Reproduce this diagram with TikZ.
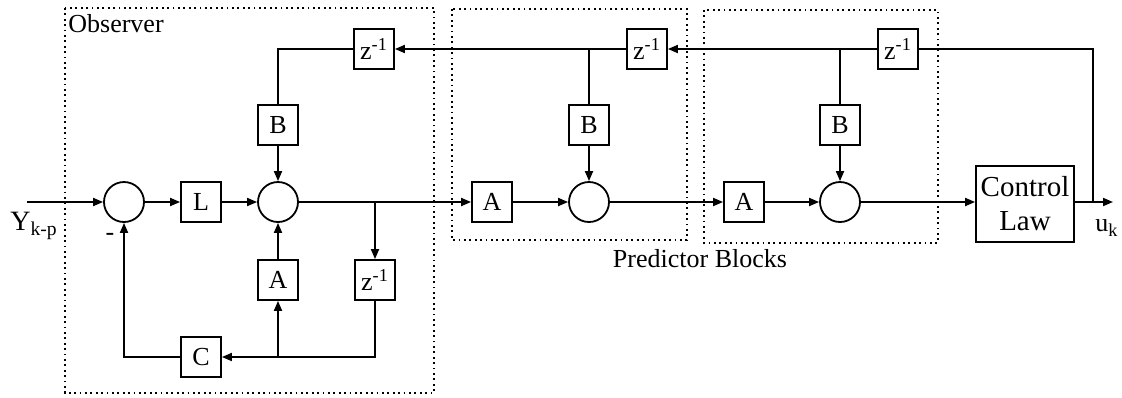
\documentclass[tikz,border=0pt]{standalone}
\usepackage{fontspec}
\setmainfont{Liberation Serif}
\usetikzlibrary{arrows.meta,positioning}

\begin{document}
\begin{tikzpicture}[x=0.5pt,y=-0.5pt,font=\fontsize{13}{15}\selectfont,
  blk/.style={draw, line width=0.9pt, minimum size=20pt, inner sep=0pt},
  sumc/.style={draw, line width=0.9pt, circle, minimum size=20pt, inner sep=0pt},
  grp/.style={draw, line width=0.9pt, dash pattern=on 0.9pt off 1.8pt},
  sig/.style={line width=0.9pt, -{Triangle[length=5pt,width=4pt]}},
  wire/.style={line width=0.9pt}]
\useasboundingbox (0,0) rectangle (1122,397);

% dotted groups
\draw[grp] (65,8) rectangle (434,393);
\draw[grp] (452,9) rectangle (687,240);
\draw[grp] (704,10) rectangle (938,243);
\node[anchor=north west, inner sep=1pt] (obs) at (66,12) {Observer};
\node (pred) at (700,259) {Predictor Blocks};

% observer
\node[blk] (zo) at (374,49) {z\textsuperscript{-1}};
\node[blk] (bo) at (278,125) {B};
\node[sumc] (s1) at (124,202) {};
\node[blk] (lo) at (201,202) {L};
\node[sumc] (so) at (278,202) {};
\node[blk] (ao) at (278,280) {A};
\node[blk] (zl) at (375,280) {z\textsuperscript{-1}};
\node[blk] (co) at (201,357) {C};

% predictor blocks
\node[blk] (zp1) at (647,49) {z\textsuperscript{-1}};
\node[blk] (bp1) at (589,125) {B};
\node[blk] (ap1) at (492,202) {A};
\node[sumc] (sp1) at (589,202) {};
\node[blk] (zp2) at (898,49) {z\textsuperscript{-1}};
\node[blk] (bp2) at (840,125) {B};
\node[blk] (ap2) at (744,202) {A};
\node[sumc] (sp2) at (840,202) {};

\node[draw, line width=0.9pt, minimum width=49pt, minimum height=38pt, align=center, inner sep=1pt, font=\fontsize{14.5}{17}\selectfont] (ctl) at (1025,204) {Control\\Law};

\coordinate (yin) at (27,202);
\coordinate (tap) at (375,202);
\coordinate (br) at (1093,202);
\coordinate (out) at (1113,202);

\node (ylab) at (34,226) {\fontsize{14}{15}\selectfont Y\textsubscript{k-p}};
\node (minus) at (110,237) {-};
\node (uk) at (1107,228) {u\textsubscript{k}};

% observer wiring
\draw[sig] (yin) -- (s1);
\draw[sig] (s1) -- (lo);
\draw[sig] (lo) -- (so);
\draw[wire] (so) -- (tap);
\draw[sig] (tap) -- (zl);
\draw[sig] (zl.south) |- (co);
\draw[sig] (ao |- co) -- (ao);
\draw[sig] (ao) -- (so);
\draw[sig] (co) -| (s1);
\draw[wire] (zo) -| (bo);
\draw[sig] (bo) -- (so);

% predictor wiring
\draw[sig] (tap) -- (ap1);
\draw[sig] (ap1) -- (sp1);
\draw[sig] (bp1) -- (sp1);
\draw[sig] (zp1) -- (zo);
\draw[wire] (bp1 |- zp1) -- (bp1);
\draw[sig] (sp1) -- (ap2);
\draw[sig] (ap2) -- (sp2);
\draw[sig] (bp2) -- (sp2);
\draw[sig] (zp2) -- (zp1);
\draw[wire] (bp2 |- zp2) -- (bp2);
\draw[sig] (sp2) -- (sp2 -| ctl.west);
\draw[sig] (ctl.east |- out) -- (out);
\draw[wire] (br) |- (zp2);
\end{tikzpicture}
\end{document}
